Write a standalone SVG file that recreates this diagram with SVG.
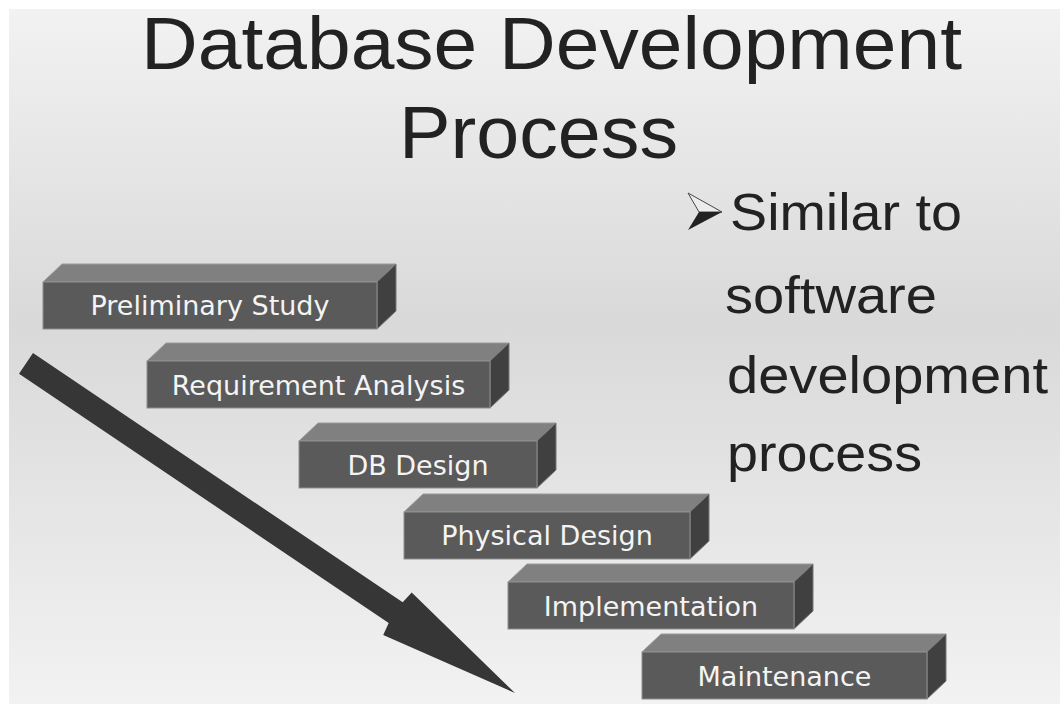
<svg xmlns="http://www.w3.org/2000/svg" width="1060" height="704" viewBox="0 0 1060 704">
  <defs>
    <linearGradient id="bg" x1="0" y1="0" x2="0" y2="1">
      <stop offset="0" stop-color="#f2f2f2"/>
      <stop offset="0.45" stop-color="#d9d9d9"/>
      <stop offset="1" stop-color="#f2f2f2"/>
    </linearGradient>
    <style>
      .front { fill: #5a5a5a; stroke: #8e8e8e; stroke-width: 1; }
      .top { fill: #808080; stroke: #9a9a9a; stroke-width: 1; stroke-linejoin: round; }
      .side { fill: #404040; stroke: #777777; stroke-width: 1; stroke-linejoin: round; }
      .lbl { font-family: "DejaVu Sans", Verdana, sans-serif; font-size: 27px; fill: #f4f4f4; text-anchor: middle; }
      .title { font-family: "Liberation Sans", Arial, sans-serif; font-size: 74px; fill: #222222; }
      .body { font-family: "Liberation Sans", Arial, sans-serif; font-size: 52px; fill: #222222; }
    </style>
  </defs>

  <rect x="0" y="0" width="1060" height="704" fill="#ffffff"/>
  <rect x="9" y="9" width="1051" height="695" fill="url(#bg)"/>

  <g id="title">
    <text class="title" x="141" y="69" textLength="821" lengthAdjust="spacingAndGlyphs">Database Development</text>
    <text class="title" x="399" y="158" textLength="279" lengthAdjust="spacingAndGlyphs">Process</text>
  </g>

  <g id="bullet-text">
    <polygon points="688,193 722,212 699,212" fill="#ececec" stroke="#444444" stroke-width="1" stroke-linejoin="round"/>
    <polygon points="699,212 722,212 688,230" fill="#222222"/>
    <text class="body" x="730" y="230" textLength="232" lengthAdjust="spacingAndGlyphs">Similar to</text>
    <text class="body" x="725" y="313" textLength="212" lengthAdjust="spacingAndGlyphs">software</text>
    <text class="body" x="727" y="393" textLength="321" lengthAdjust="spacingAndGlyphs">development</text>
    <text class="body" x="727" y="471" textLength="195" lengthAdjust="spacingAndGlyphs">process</text>
  </g>

  <g id="connectors">
    <polygon id="flow-arrow" points="33,353 402.7,602.3 411.7,592.6 515,693 383.2,634.9 388.7,623 19,373.7" fill="#363636"/>
  </g>

  <g id="node-preliminary-study">
    <polygon class="top" points="43,282 62,264 396,264 377,282"/>
    <polygon class="side" points="377,282 396,264 396,311 377,329"/>
    <rect class="front" x="43" y="282" width="334" height="47"/>
    <text class="lbl" x="210" y="315">Preliminary Study</text>
  </g>

  <g id="node-requirement-analysis">
    <polygon class="top" points="147,361 166,343 509,343 490,361"/>
    <polygon class="side" points="490,361 509,343 509,390 490,408"/>
    <rect class="front" x="147" y="361" width="343" height="47"/>
    <text class="lbl" x="318.5" y="395">Requirement Analysis</text>
  </g>

  <g id="node-db-design">
    <polygon class="top" points="299,441 318,423 556,423 537,441"/>
    <polygon class="side" points="537,441 556,423 556,470 537,488"/>
    <rect class="front" x="299" y="441" width="238" height="47"/>
    <text class="lbl" x="418" y="475">DB Design</text>
  </g>

  <g id="node-physical-design">
    <polygon class="top" points="404,512 423,494 709,494 690,512"/>
    <polygon class="side" points="690,512 709,494 709,541 690,559"/>
    <rect class="front" x="404" y="512" width="286" height="47"/>
    <text class="lbl" x="547" y="545">Physical Design</text>
  </g>

  <g id="node-implementation">
    <polygon class="top" points="508,582 527,564 813,564 794,582"/>
    <polygon class="side" points="794,582 813,564 813,611 794,629"/>
    <rect class="front" x="508" y="582" width="286" height="47"/>
    <text class="lbl" x="651" y="616">Implementation</text>
  </g>

  <g id="node-maintenance">
    <polygon class="top" points="642,652 661,634 946,634 927,652"/>
    <polygon class="side" points="927,652 946,634 946,681 927,699"/>
    <rect class="front" x="642" y="652" width="285" height="47"/>
    <text class="lbl" x="784.5" y="686">Maintenance</text>
  </g>
</svg>
